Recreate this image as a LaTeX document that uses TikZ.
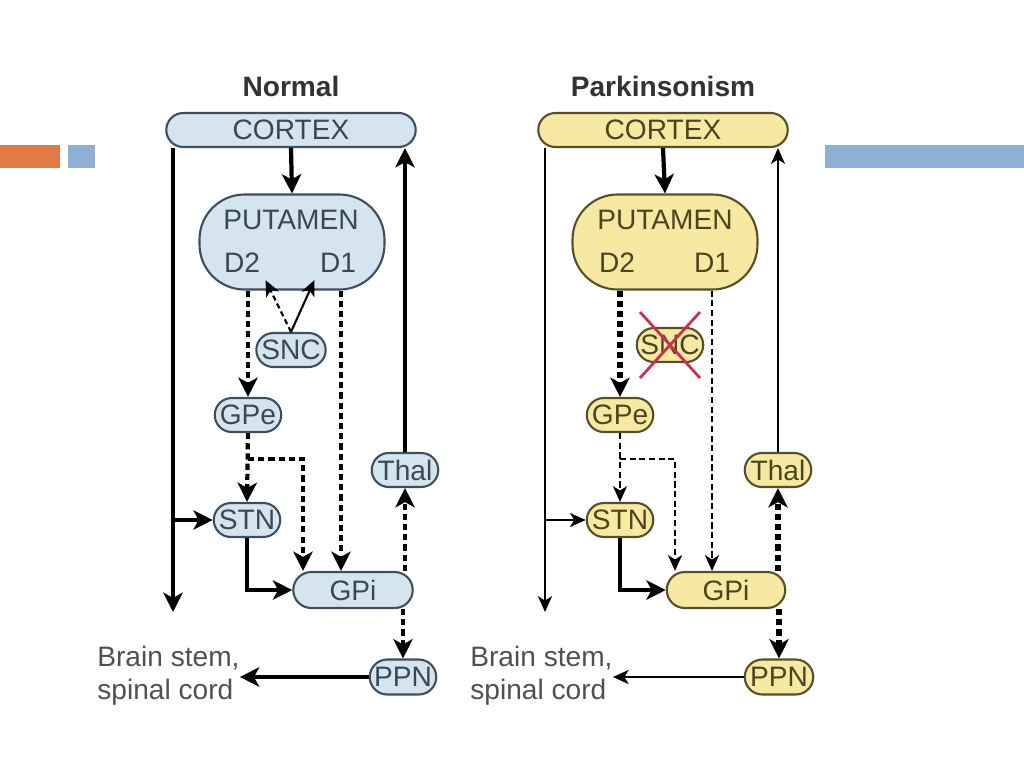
\documentclass[tikz,border=0pt]{standalone}
\usepackage{fontspec}
\setmainfont{Liberation Sans}
\usetikzlibrary{shapes.misc,arrows.meta,calc}
\definecolor{orangeB}{HTML}{E07B45}
\definecolor{blueB}{HTML}{8EB0D4}
\definecolor{fillN}{HTML}{D5E5EF}
\definecolor{fillP}{HTML}{F7E9A2}
\definecolor{bordN}{HTML}{3E4E5C}
\definecolor{bordP}{HTML}{55502A}
\definecolor{txtN}{HTML}{3A4856}
\definecolor{txtP}{HTML}{4A4520}
\definecolor{txtG}{HTML}{505050}
\definecolor{xred}{HTML}{C8324E}
\tikzset{
  lbl/.style={font=\fontsize{16}{18}\selectfont, inner sep=1pt},
  box/.style={rounded rectangle, draw, line width=1.2pt, inner sep=0pt, lbl},
  boxN/.style={box, draw=bordN, fill=fillN, text=txtN},
  boxP/.style={box, draw=bordP, fill=fillP, text=txtP},
  putbox/.style={rectangle, rounded corners=0.9cm, line width=1.2pt, minimum width=3.7cm, minimum height=1.9cm},
  thk/.style={line width=2.4pt, -{Stealth[length=11pt,width=11pt,inset=3pt]}},
  thn/.style={line width=1.2pt, -{Stealth[length=9pt,width=8pt,inset=2.5pt]}},
  dthk/.style={thk, dash pattern=on 3.5pt off 2.3pt},
  dthn/.style={thn, dash pattern=on 3.5pt off 2pt},
  title/.style={font=\fontsize{16}{18}\selectfont\bfseries, text=black!80},
  bstext/.style={font=\fontsize{16}{19}\selectfont, text=txtG, align=left, inner sep=0pt}
}
\begin{document}
\begin{tikzpicture}[x=0.02cm,y=-0.02cm]
\useasboundingbox (0,0) rectangle (1024,768);
% slide decorations
\fill[orangeB] (0,145) rectangle (60,168);
\fill[blueB] (68,145) rectangle (95,168);
\fill[blueB] (825,145) rectangle (1024,168);

% ================= Normal =================
\node[title] (tN) at (291,86) {Normal};
\node[boxN, minimum width=5.06cm, minimum height=0.68cm] (cortexN) at (291,130) {CORTEX};
\node[putbox, draw=bordN, fill=fillN] (putN) at (292,242) {};
\node[lbl, text=txtN] (putlabN) at (291,220) {PUTAMEN};
\node[lbl, text=txtN] (d2N) at (242,263) {D2};
\node[lbl, text=txtN] (d1N) at (338,263) {D1};
\node[boxN, minimum width=1.34cm, minimum height=0.68cm] (sncN) at (291,350) {SNC};
\node[boxN, minimum width=1.4cm, minimum height=0.68cm] (gpeN) at (248,415) {GPe};
\node[boxN, minimum width=1.4cm, minimum height=0.68cm] (stnN) at (247,520) {STN};
\node[boxN, minimum width=1.4cm, minimum height=0.68cm] (thalN) at (405,470) {Thal};
\node[boxN, minimum width=2.46cm, minimum height=0.72cm] (gpiN) at (353,590) {GPi};
\node[boxN, minimum width=1.4cm, minimum height=0.7cm] (ppnN) at (403,677) {PPN};
\node[bstext, anchor=west] (bsN) at (97,676) {Brain stem,\\spinal cord};
\coordinate (endN) at (173,612);
\coordinate (d1gN) at ([xshift=-0.24cm]gpiN.north);
\coordinate (gebN) at ([xshift=-1cm]gpiN.north);

\draw[thk] (cortexN.south) -- (putN.north);
\draw[thk] (cortexN.south -| endN) -- (endN);
\draw[thk] (endN |- stnN.west) -- (stnN.west);
\draw[thk] (thalN.north) -- (thalN.north |- cortexN.south);
\draw[thn, dash pattern=on 3pt off 2pt] (sncN.north) -- ([xshift=2pt,yshift=-3pt]d2N.south east);
\draw[thn] (sncN.north) -- ([xshift=-2pt,yshift=-3pt]d1N.south west);
\draw[dthk] (putN.south -| gpeN.north) -- (gpeN.north);
\draw[dthk] (gpeN.south) -- (stnN.north);
\draw[dthk] ($(gpeN.south)+(0,26)$) -| (gebN);
\draw[dthk] (putN.south -| d1gN) -- (d1gN);
\draw[thk] (stnN.south) |- (gpiN.west);
\draw[dthk] (gpiN.north -| thalN.south) -- (thalN.south);
\draw[dthk] (gpiN.south -| ppnN.north) -- (ppnN.north);
\draw[thk] (ppnN.west) -- (bsN.east |- ppnN.west);

% ================= Parkinsonism =================
\node[title] (tP) at (663,86) {Parkinsonism};
\node[boxP, minimum width=5.06cm, minimum height=0.68cm] (cortexP) at (663,130) {CORTEX};
\node[putbox, draw=bordP, fill=fillP] (putP) at (665,242) {};
\node[lbl, text=txtP] (putlabP) at (665,220) {PUTAMEN};
\node[lbl, text=txtP] (d2P) at (617,263) {D2};
\node[lbl, text=txtP] (d1P) at (712,263) {D1};
\node[boxP, minimum width=1.4cm, minimum height=0.68cm] (sncP) at (670,345) {SNC};
\node[boxP, minimum width=1.4cm, minimum height=0.68cm] (gpeP) at (620,415) {GPe};
\node[boxP, minimum width=1.4cm, minimum height=0.68cm] (stnP) at (620,520) {STN};
\node[boxP, minimum width=1.4cm, minimum height=0.68cm] (thalP) at (778,470) {Thal};
\node[boxP, minimum width=2.44cm, minimum height=0.72cm] (gpiP) at (726,590) {GPi};
\node[boxP, minimum width=1.44cm, minimum height=0.7cm] (ppnP) at (779,677) {PPN};
\node[bstext, anchor=west] (bsP) at (470,676) {Brain stem,\\spinal cord};
\coordinate (endP) at (545,612);
\coordinate (d1gP) at ([xshift=-0.28cm]gpiP.north);
\coordinate (gebP) at ([xshift=-1.02cm]gpiP.north);

\draw[xred, line width=1.6pt] ([xshift=-0.6cm,yshift=0.66cm]sncP.center) -- ([xshift=0.6cm,yshift=-0.66cm]sncP.center);
\draw[xred, line width=1.6pt] ([xshift=0.6cm,yshift=0.66cm]sncP.center) -- ([xshift=-0.6cm,yshift=-0.66cm]sncP.center);

\draw[thk] (cortexP.south) -- (putP.north);
\draw[thn] (cortexP.south -| endP) -- (endP);
\draw[thn] (endP |- stnP.west) -- (stnP.west);
\draw[thn] (thalP.north) -- (thalP.north |- cortexP.south);
\draw[dthk, line width=3pt] (putP.south -| gpeP.north) -- (gpeP.north);
\draw[dthn] (gpeP.south) -- (stnP.north);
\draw[dthn] ($(gpeP.south)+(0,26)$) -| (gebP);
\draw[dthn] (putP.south -| d1gP) -- (d1gP);
\draw[thk] (stnP.south) |- (gpiP.west);
\draw[dthk, line width=3pt] (gpiP.north -| thalP.south) -- (thalP.south);
\draw[dthk, line width=3pt] (gpiP.south -| ppnP.north) -- (ppnP.north);
\draw[thn] (ppnP.west) -- (bsP.east |- ppnP.west);
\end{tikzpicture}
\end{document}
